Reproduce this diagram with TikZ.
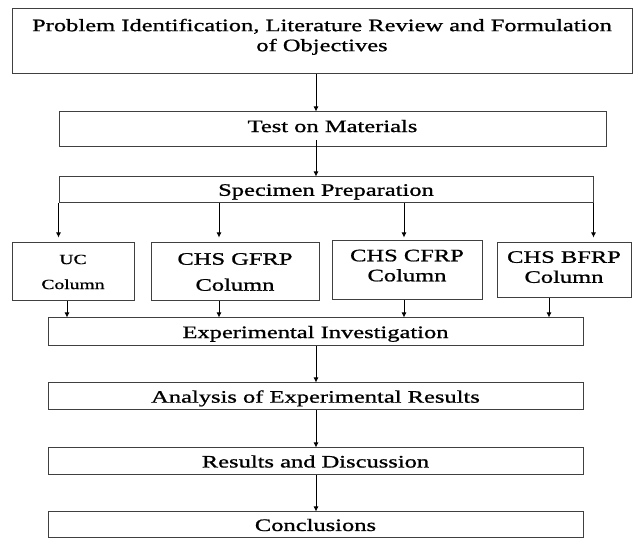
\documentclass[tikz,border=0pt]{standalone}
\usepackage{fontspec}
\setmainfont{Liberation Serif}[FakeStretch=1.4,FakeBold=1]
\usetikzlibrary{arrows.meta}
\tikzstyle{stage} = [draw=black!75, line width=1pt, inner sep=0pt, align=center, font=\fontsize{17.5}{20}\selectfont]
\tikzstyle{column} = [stage, minimum height=58pt]
\tikzstyle{arrow} = [line width=0.8pt, -{Latex[length=5pt,width=5pt]}]

\begin{document}
\begin{tikzpicture}[x=1pt,y=-1pt]
\useasboundingbox (0,0) rectangle (633,540);
% main stages
\node[stage, minimum width=620pt, minimum height=65pt, text depth=13pt] (prob) at (322,41.5) {Problem Identification, Literature Review and Formulation\\of Objectives};
\node[stage, minimum width=547pt, minimum height=35pt, text depth=7pt] (test) at (332.5,129.5) {Test on Materials};
\node[stage, minimum width=534pt, minimum height=26pt, text depth=0pt] (spec) at (326,190) {Specimen Preparation};
% columns
\node[column, minimum width=122pt, font=\fontsize{14}{17}\selectfont] (uc) at (73,272) {UC\\[8pt]Column};
\node[column, minimum width=168pt] (gfrp) at (235,272) {CHS GFRP\\[6pt]Column};
\node[column, minimum width=150pt, minimum height=59pt, text depth=10pt] (cfrp) at (407,270.5) {CHS CFRP\\Column};
\node[column, minimum width=134pt, minimum height=55pt, text depth=7pt] (bfrp) at (564,270.5) {CHS BFRP\\Column};
% lower stages
\node[stage, minimum width=535pt, minimum height=28pt, text depth=0pt] (exp) at (315.5,332) {Experimental Investigation};
\node[stage, minimum width=535pt, minimum height=27pt, text depth=0pt] (ana) at (315.5,396.5) {Analysis of Experimental Results};
\node[stage, minimum width=535pt, minimum height=27pt] (res) at (315.5,461.5) {Results and Discussion};
\node[stage, minimum width=535pt, minimum height=26pt] (con) at (315.5,525) {Conclusions};

\coordinate (axis) at (316,0);
\coordinate (drop2) at (219,0);
\coordinate (drop3) at (404,0);
\coordinate (rise1) at (67,0);
\coordinate (rise4) at (549,0);

\draw[arrow] (prob.south -| axis) -- (test.north -| axis);
\draw[arrow] ([yshift=7pt]test.south -| axis) -- (spec.north -| axis);
\draw[arrow, shorten >=5pt] (spec.south west) -- (spec.south west |- uc.north);
\draw[arrow, shorten >=5pt] (spec.south -| drop2) -- (gfrp.north -| drop2);
\draw[arrow, shorten >=3pt] (spec.south -| drop3) -- (cfrp.north -| drop3);
\draw[arrow, shorten >=5pt] (spec.south east) -- (spec.south east |- bfrp.north);
\draw[arrow] (uc.south -| rise1) -- (exp.north -| rise1);
\draw[arrow] (gfrp.south -| drop2) -- (exp.north -| drop2);
\draw[arrow] (cfrp.south -| drop3) -- (exp.north -| drop3);
\draw[arrow] (bfrp.south -| rise4) -- (exp.north -| rise4);
\draw[arrow] (exp.south -| axis) -- (ana.north -| axis);
\draw[arrow] (ana.south -| axis) -- (res.north -| axis);
\draw[arrow] (res.south -| axis) -- (con.north -| axis);
\end{tikzpicture}
\end{document}
